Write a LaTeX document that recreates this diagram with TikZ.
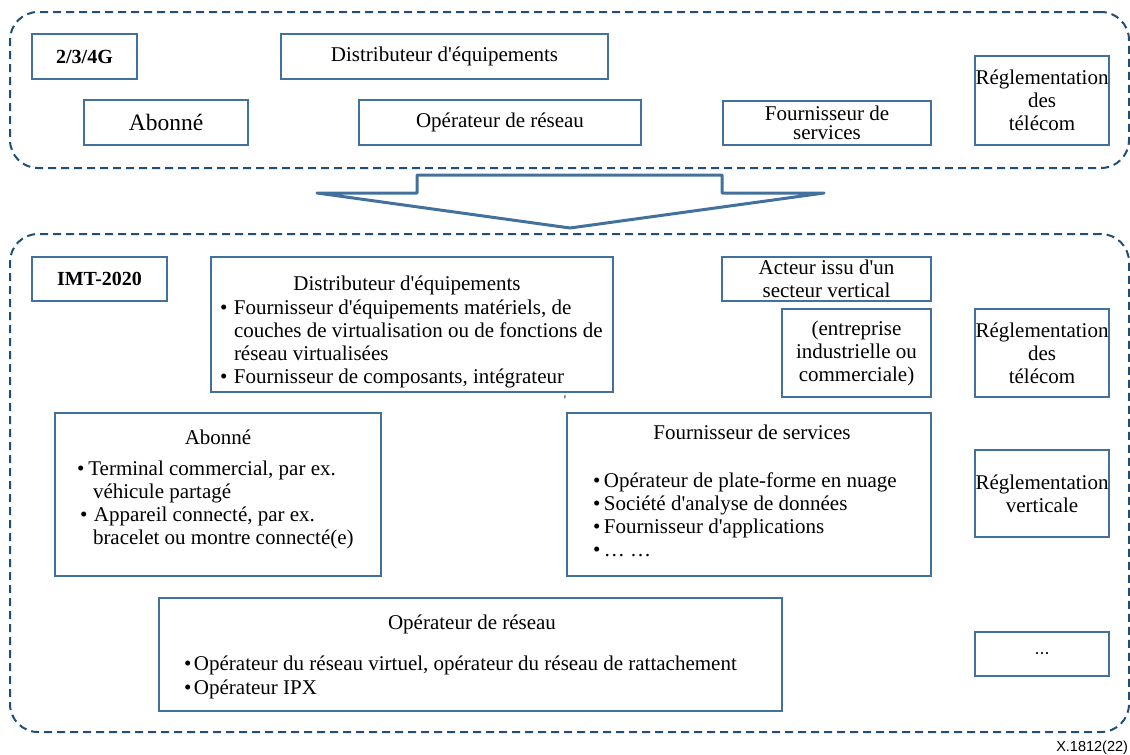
\documentclass[tikz,border=0pt]{standalone}
\usepackage{fontspec}
\setmainfont{Liberation Serif}[Ligatures=TeXOff]
\setsansfont{Liberation Sans}
\definecolor{frameblue}{RGB}{31,78,121}
\definecolor{boxblue}{RGB}{65,113,156}
\newcommand\bodyfont{\fontsize{21}{23}\selectfont}
\newcommand\bulitem[1]{\makebox[#1][l]{•}}
\tikzset{
  every node/.style={inner sep=0pt, outer sep=0pt},
  group/.style={draw=frameblue, line width=2pt, dash pattern=on 8pt off 5pt,
    rounded corners=28pt, anchor=north west},
  box/.style={draw=boxblue, line width=1.5pt, anchor=north west,
    font=\bodyfont, align=center},
  txt/.style={font=\bodyfont},
  bigarrow/.style={draw=boxblue, line width=3pt, line join=round}
}
\begin{document}
\begin{tikzpicture}[x=1pt,y=-1pt]
\useasboundingbox (0,0) rectangle (1130,755);

% dashed containers
\node[group, minimum width=1119, minimum height=156] (gen) at (10,12) {};
\node[group, minimum width=1119, minimum height=498] (imt) at (10,234) {};

% 2/3/4G row
\node[box, minimum width=105, minimum height=45, font=\fontsize{20}{23}\selectfont\bfseries] (g4) at (32,34) {2/3/4G};
\node[box, minimum width=327, minimum height=45] (distA) at (281,34) {Distributeur d'équipements};
\node[box, minimum width=164, minimum height=45, font=\fontsize{23.5}{26}\selectfont] (abA) at (84,100) {Abonné};
\node[box, minimum width=282, minimum height=45] (opA) at (359,100) {Opérateur de réseau};
\node[box, minimum width=208, minimum height=44, font=\fontsize{21}{19}\selectfont] (fsA) at (723,101) {Fournisseur de\\services};
\node[box, minimum width=134, minimum height=89] (regA) at (975,56) {Réglementation\\des\\télécom};

% transition arrow
\draw[bigarrow] (317,193) -- (417,193) -- (417,175) -- (722,175) -- (722,193)
  -- (824,193) -- (570,228) -- cycle;

% IMT-2020 part
\node[box, minimum width=135, minimum height=44, font=\fontsize{20}{23}\selectfont\bfseries] (imtL) at (32,257) {IMT-2020};

\node[box, minimum width=402, minimum height=135] (distB) at (211,257) {};
\node[txt, anchor=base] (distBt) at (407,290) {Distributeur d'équipements};
\node[txt, anchor=base west] (distBl) at (220,314) {\parbox[t]{390pt}{%
  \bulitem{14pt}Fournisseur d'équipements matériels, de\\
  \hspace*{14pt}couches de virtualisation ou de fonctions de\\
  \hspace*{14pt}réseau virtualisées\\
  \bulitem{14pt}Fournisseur de composants, intégrateur}};

\node[box, minimum width=209, minimum height=44] (act) at (722,257) {Acteur issu d'un\\secteur vertical};
\node[box, minimum width=149, minimum height=88] (ent) at (782,309) {(entreprise\\industrielle ou\\commerciale)};
\node[box, minimum width=134, minimum height=88] (regB) at (975,309) {Réglementation\\des\\télécom};

\node[txt, anchor=north, font=\fontsize{13}{13}\selectfont] (tick) at (565,396) {'};

\node[box, minimum width=326, minimum height=163] (abB) at (55,413) {};
\node[txt, anchor=base] (abBt) at (218,444) {Abonné};
\node[txt, anchor=base west] (abBl) at (77,475) {\parbox[t]{300pt}{%
  •\hspace{4pt}Terminal commercial, par ex.\\
  \hspace*{16pt}véhicule partagé\\
  \hspace*{3pt}\bulitem{14pt}Appareil connecté, par ex.\\
  \hspace*{16pt}bracelet ou montre connecté(e)}};

\node[box, minimum width=364, minimum height=163] (fsB) at (567,413) {};
\node[txt, anchor=base] (fsBt) at (752,439) {Fournisseur de services};
\node[txt, anchor=base west, font=\fontsize{21}{23.3}\selectfont] (fsBl) at (593,487) {\parbox[t]{330pt}{%
  \bulitem{11pt}Opérateur de plate-forme en nuage\\
  \bulitem{11pt}Société d'analyse de données\\
  \bulitem{11pt}Fournisseur d'applications\\
  \bulitem{11pt}… …}};

\node[box, minimum width=134, minimum height=87] (regV) at (975,450) {Réglementation\\verticale};

\node[box, minimum width=623, minimum height=113] (opB) at (159,598) {};
\node[txt, anchor=base] (opBt) at (472,629) {Opérateur de réseau};
\node[txt, anchor=base west, font=\fontsize{21}{24}\selectfont] (opBl) at (184,670) {\parbox[t]{590pt}{%
  \bulitem{10pt}Opérateur du réseau virtuel, opérateur du réseau de rattachement\\
  \bulitem{10pt}Opérateur IPX}};

\node[box, minimum width=134, minimum height=44, font=\sffamily\fontsize{18}{20}\selectfont] (more) at (975,632) {...};

\node[anchor=base east, font=\sffamily\fontsize{14.5}{16}\selectfont] (ref) at (1128,751) {X.1812(22)};
\end{tikzpicture}
\end{document}
